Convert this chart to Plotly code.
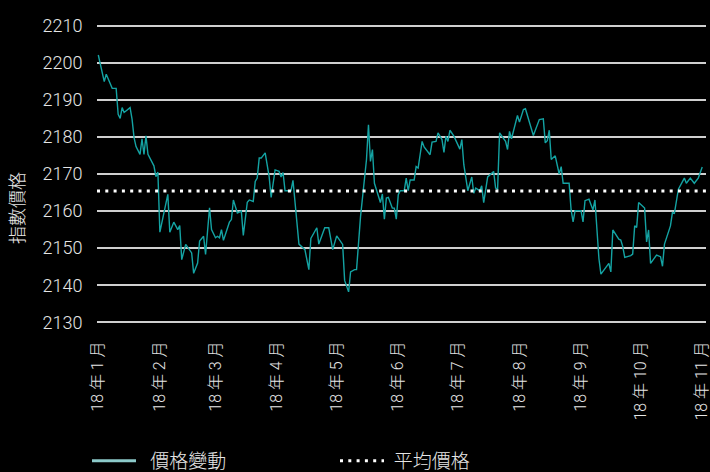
import plotly.graph_objects as go

# Daily index readings (2018)
DATES = [
    "2018-01-01", "2018-01-04", "2018-01-05", "2018-01-07", "2018-01-08", "2018-01-10",
    "2018-01-11", "2018-01-12", "2018-01-13", "2018-01-14", "2018-01-17", "2018-01-18",
    "2018-01-19", "2018-01-20", "2018-01-22", "2018-01-23", "2018-01-24", "2018-01-25",
    "2018-01-26", "2018-01-29", "2018-01-30", "2018-01-31", "2018-02-01", "2018-02-05",
    "2018-02-06", "2018-02-08", "2018-02-10", "2018-02-11", "2018-02-12", "2018-02-14",
    "2018-02-16", "2018-02-17", "2018-02-18", "2018-02-20", "2018-02-21", "2018-02-23",
    "2018-02-24", "2018-02-26", "2018-02-27", "2018-03-01", "2018-03-02", "2018-03-03",
    "2018-03-04", "2018-03-05", "2018-03-08", "2018-03-09", "2018-03-10", "2018-03-11",
    "2018-03-12", "2018-03-14", "2018-03-15", "2018-03-17", "2018-03-18", "2018-03-20",
    "2018-03-21", "2018-03-22", "2018-03-23", "2018-03-24", "2018-03-26", "2018-03-28",
    "2018-03-29", "2018-03-31", "2018-04-02", "2018-04-03", "2018-04-04", "2018-04-05",
    "2018-04-08", "2018-04-09", "2018-04-10", "2018-04-11", "2018-04-12", "2018-04-15",
    "2018-04-17", "2018-04-18", "2018-04-21", "2018-04-22", "2018-04-25", "2018-04-27",
    "2018-04-29", "2018-05-01", "2018-05-04", "2018-05-05", "2018-05-07", "2018-05-08",
    "2018-05-10", "2018-05-11", "2018-05-12", "2018-05-13", "2018-05-16", "2018-05-17",
    "2018-05-18", "2018-05-19", "2018-05-20", "2018-05-23", "2018-05-24", "2018-05-25",
    "2018-05-26", "2018-05-27", "2018-05-29", "2018-05-30", "2018-05-31", "2018-06-01",
    "2018-06-02", "2018-06-04", "2018-06-05", "2018-06-06", "2018-06-07", "2018-06-09",
    "2018-06-10", "2018-06-11", "2018-06-13", "2018-06-14", "2018-06-17", "2018-06-18",
    "2018-06-20", "2018-06-21", "2018-06-23", "2018-06-24", "2018-06-25", "2018-06-26",
    "2018-06-27", "2018-06-29", "2018-07-02", "2018-07-03", "2018-07-04", "2018-07-06",
    "2018-07-08", "2018-07-09", "2018-07-10", "2018-07-11", "2018-07-12", "2018-07-13",
    "2018-07-14", "2018-07-16", "2018-07-17", "2018-07-19", "2018-07-20", "2018-07-21",
    "2018-07-22", "2018-07-25", "2018-07-26", "2018-07-27", "2018-07-28", "2018-07-31",
    "2018-08-01", "2018-08-03", "2018-08-04", "2018-08-06", "2018-08-08", "2018-08-11",
    "2018-08-13", "2018-08-14", "2018-08-15", "2018-08-16", "2018-08-17", "2018-08-19",
    "2018-08-21", "2018-08-22", "2018-08-23", "2018-08-26", "2018-08-27", "2018-08-28",
    "2018-08-29", "2018-09-01", "2018-09-02", "2018-09-03", "2018-09-05", "2018-09-07",
    "2018-09-08", "2018-09-10", "2018-09-11", "2018-09-15", "2018-09-16", "2018-09-17",
    "2018-09-20", "2018-09-21", "2018-09-22", "2018-09-23", "2018-09-26", "2018-09-27",
    "2018-09-28", "2018-09-29", "2018-09-30", "2018-10-03", "2018-10-04", "2018-10-05",
    "2018-10-06", "2018-10-09", "2018-10-11", "2018-10-12", "2018-10-13", "2018-10-16",
    "2018-10-17", "2018-10-18", "2018-10-20", "2018-10-23", "2018-10-24", "2018-10-26",
    "2018-10-28", "2018-10-30", "2018-11-01",
]

PRICES = [
    2202.1, 2194.9, 2196.9, 2194.2, 2193.1, 2193.1,
    2186.1, 2185.0, 2187.9, 2186.6, 2187.9, 2184.8,
    2179.8, 2177.4, 2175.3, 2179.5, 2175.3, 2180.3,
    2175.3, 2172.2, 2169.3, 2170.5, 2154.3, 2164.5,
    2154.3, 2157.0, 2155.0, 2156.1, 2146.9, 2151.0,
    2149.6, 2148.7, 2143.2, 2146.0, 2151.9, 2153.2,
    2148.3, 2160.9, 2155.0, 2152.8, 2153.2, 2152.8,
    2155.0, 2152.1, 2157.0, 2157.7, 2163.0, 2161.5,
    2159.5, 2160.0, 2153.4, 2162.4, 2163.0, 2162.6,
    2168.0, 2168.9, 2174.3, 2174.3, 2175.7, 2169.3,
    2163.7, 2171.1, 2170.7, 2169.2, 2170.4, 2165.5,
    2165.5, 2168.3, 2162.1, 2155.8, 2151.1, 2149.6,
    2144.2, 2152.6, 2155.5, 2151.1, 2155.5, 2155.5,
    2149.6, 2153.3, 2151.0, 2141.3, 2138.2, 2143.6,
    2144.2, 2144.2, 2151.3, 2158.5, 2173.9, 2183.3,
    2173.4, 2176.6, 2167.5, 2162.3, 2164.6, 2157.8,
    2163.5, 2163.7, 2160.8, 2160.8, 2157.8, 2164.4,
    2165.5, 2165.5, 2168.9, 2165.5, 2168.4, 2168.4,
    2172.0, 2171.6, 2178.8, 2177.3, 2175.2, 2178.6,
    2178.8, 2181.1, 2179.3, 2175.8, 2180.2, 2178.8,
    2181.8, 2180.2, 2176.7, 2179.3, 2172.5, 2165.5,
    2169.2, 2164.8, 2166.2, 2165.9, 2165.5, 2166.8,
    2162.3, 2169.2, 2169.8, 2170.7, 2166.2, 2165.9,
    2181.1, 2178.8, 2176.6, 2181.5, 2179.5, 2185.8,
    2184.0, 2187.4, 2187.6, 2184.2, 2180.4, 2184.7,
    2184.9, 2178.4, 2179.0, 2181.8, 2173.9, 2174.9,
    2170.0, 2172.0, 2167.5, 2167.5, 2160.3, 2157.1,
    2160.1, 2160.1, 2157.1, 2162.8, 2163.2, 2160.3,
    2163.0, 2147.2, 2143.0, 2145.9, 2143.6, 2154.9,
    2152.4, 2152.2, 2150.4, 2147.5, 2148.0, 2148.4,
    2156.0, 2155.6, 2162.3, 2160.8, 2151.7, 2154.9,
    2145.9, 2148.1, 2147.7, 2145.1, 2151.1, 2156.0,
    2159.6, 2159.4, 2165.9, 2168.9, 2167.5, 2168.9,
    2167.5, 2168.9, 2171.9,
]

AVG_PRICE = 2165.4

MONTH_TICKS = [
    "2018-01-01", "2018-02-01", "2018-03-01", "2018-04-01", "2018-05-01", "2018-06-01",
    "2018-07-01", "2018-08-01", "2018-09-01", "2018-10-01", "2018-11-01",
]
MONTH_LABELS = [
    "18 年 1 月", "18 年 2 月", "18 年 3 月", "18 年 4 月", "18 年 5 月", "18 年 6 月",
    "18 年 7 月", "18 年 8 月", "18 年 9 月", "18 年 10 月", "18 年 11 月",
]
Y_TICKS = [2130, 2140, 2150, 2160, 2170, 2180, 2190, 2200, 2210]

X_RANGE = ["2017-12-31 08:24", "2018-11-02 21:36"]
Y_RANGE = [2128.46, 2211.54]

FONT = "Roboto, 'Noto Sans CJK TC', sans-serif"
TEXT_COLOR = "#e6e6e6"
LINE_COLOR = "#14a3a3"
LEGEND_LINE_COLOR = "#8ccaca"

fig = go.Figure()

# price series
fig.add_trace(go.Scatter(
    x=DATES, y=PRICES, mode="lines", showlegend=False,
    line=dict(color=LINE_COLOR, width=1.4),
    hoverinfo="x+y",
))

# legend swatch for the price series
fig.add_trace(go.Scatter(
    x=[None], y=[None], mode="lines", name="\u00a0\u00a0價格變動",
    line=dict(color=LEGEND_LINE_COLOR, width=3),
))

# average level across the whole axis range
fig.add_trace(go.Scatter(
    x=X_RANGE, y=[AVG_PRICE, AVG_PRICE], mode="lines", name="\u00a0平均價格",
    line=dict(color="#ffffff", width=3, dash="3px,5.3px"),
    hoverinfo="skip",
))

fig.update_layout(
    width=710, height=472,
    margin=dict(l=97, r=4, t=20, b=144, autoexpand=False),
    paper_bgcolor="#000000", plot_bgcolor="#000000",
    font=dict(family=FONT, color=TEXT_COLOR, size=18, weight=300),
    showlegend=True,
    legend=dict(
        orientation="h", xref="container", yref="container",
        x=87 / 710, xanchor="left", y=1 - 461 / 472, yanchor="middle",
        font=dict(family=FONT, size=19, color=TEXT_COLOR, weight=300),
        itemwidth=44, entrywidth=189, bgcolor="rgba(0,0,0,0)",
    ),
    xaxis=dict(
        type="date", range=X_RANGE, showgrid=False, zeroline=False, showline=False,
        tickmode="array", tickvals=MONTH_TICKS, ticktext=MONTH_LABELS,
        tickangle=-90, ticks="outside", ticklen=6, tickcolor="rgba(0,0,0,0)",
        ticklabeloverflow="allow", automargin=False,
        tickfont=dict(family=FONT, size=16, color=TEXT_COLOR, weight=300),
    ),
    yaxis=dict(
        range=Y_RANGE, tickmode="array", tickvals=Y_TICKS,
        showgrid=True, gridcolor="#cfcfcf", gridwidth=1.5,
        zeroline=False, showline=False, automargin=False,
        ticks="outside", ticklen=10, tickcolor="rgba(0,0,0,0)",
        tickfont=dict(family=FONT, size=18, color=TEXT_COLOR, weight=300),
    ),
    annotations=[dict(
        text="指數價格", xref="paper", yref="paper",
        x=-0.1297, y=0.39, xanchor="center", yanchor="middle",
        textangle=-90, showarrow=False,
        font=dict(family=FONT, size=18, color=TEXT_COLOR, weight=300),
    )],
)

fig.write_html("out.html")
